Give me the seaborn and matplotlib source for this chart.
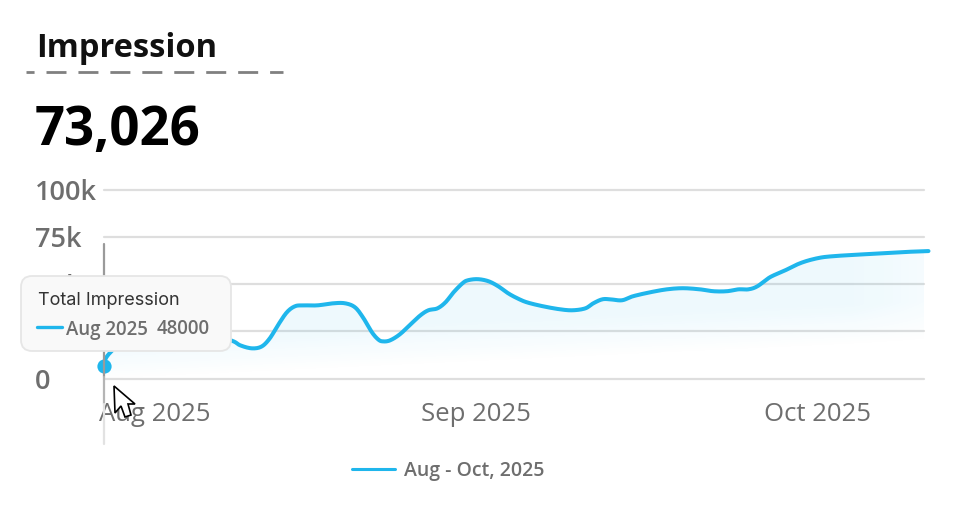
import numpy as np
import seaborn as sns
import matplotlib.pyplot as plt
from matplotlib.lines import Line2D
from matplotlib.patches import FancyBboxPatch, Polygon, PathPatch
from matplotlib.path import Path
from matplotlib.transforms import IdentityTransform, Affine2D

W, H = 974, 506

# values
days = [0, 0.7, 5.1, 10.7, 14.2, 15.2, 16.5, 17.6, 18.5, 19.4, 20.4, 21.3, 22.2, 23.8, 25.6, 26.9,
        28.0, 28.9, 29.9, 30.6, 31.1, 31.9, 33.0, 34.2, 35.3, 36.2, 37.2, 38.1, 39.0, 40.0, 40.6,
        41.7, 42.9, 44.0, 45.1, 46.1, 47.2, 49.0, 50.9, 52.3, 53.7, 54.6, 55.6, 56.5, 57.8, 59.0,
        60.9, 62.8, 64.6, 66.5, 68.0, 69.5, 70.8, 71.9, 72.9, 74.3, 75.8, 77.7, 79.6, 81.4, 85.2,
        88.8, 92.0]
impressions = [6400, 13800, 30900, 25500, 20200, 17600, 16000, 17000, 21300, 28200, 35100, 38300,
               38800, 38800, 39900, 39900, 37800, 32400, 24500, 20700, 19700, 20200, 23400, 28700,
               33500, 36200, 37200, 40400, 45700, 50500, 52100, 52700, 51600, 48900, 45200, 42600,
               40400, 38300, 36700, 36200, 37200, 39900, 42000, 42000, 41500, 43600, 45700, 47300,
               47900, 47300, 46300, 46300, 47300, 47300, 48900, 53700, 56900, 61200, 63800, 64900,
               66000, 67000, 67600]
y_ticks = [0, 25000, 50000, 75000, 100000]
y_labels = ["0", "", "50k", "75k", "100k"]
x_ticks = [5.7, 41.5, 79.6]
x_labels = ["Aug 2025", "Sep 2025", "Oct 2025"]

BLUE = "#1fb6ec"
GREY = "#6e6e6e"

sns.set_theme(style="white")
plt.rcParams['font.family'] = ['Open Sans', 'DejaVu Sans']
plt.rcParams['lines.scale_dashes'] = False


def fx(px):
    return px / W


def fy(py):
    return 1 - py / H


def smooth(xs, ys, n=12):
    # catmull-rom through the read values, the original line is a smoothed one
    p = np.column_stack([xs, ys]).astype(float)
    p = np.vstack([p[0], p, p[-1]])
    out = []
    t = np.linspace(0, 1, n, endpoint=False)[:, None]
    for i in range(1, len(p) - 2):
        a, b, c, d = p[i - 1], p[i], p[i + 1], p[i + 2]
        out.append(0.5 * (2 * b + (c - a) * t + (2 * a - 5 * b + 4 * c - d) * t ** 2
                          + (3 * b - a - 3 * c + d) * t ** 3))
    out.append(p[-1][None, :])
    out = np.vstack(out)
    return out[:, 0], out[:, 1]


fig = plt.figure(figsize=(W / 100, H / 100), dpi=100)
ax = fig.add_axes([fx(104), fy(379.5), 820 / W, 188.5 / H])
sx, sy = smooth(days, impressions)
sns.lineplot(x=sx, y=sy, ax=ax, color=BLUE, linewidth=2.9, sort=False,
             errorbar=None, label="Aug - Oct, 2025", clip_on=False, zorder=4)
ax.lines[0].set_solid_capstyle("round")
sns.scatterplot(x=days[:1], y=impressions[:1], ax=ax, color=BLUE, s=105, linewidth=0,
                clip_on=False, zorder=5, legend=False)

ax.set_yticks(y_ticks, y_labels)
ax.set_xticks(x_ticks, x_labels)
ax.tick_params(axis="y", length=0, pad=49.5, labelsize=19.5, labelcolor=GREY)
ax.tick_params(axis="x", length=0, pad=16, labelsize=18.5, labelcolor=GREY)
for t in ax.get_yticklabels():
    t.set_ha("left")
    t.set_fontweight(600)
    t.set_transform(t.get_transform() + Affine2D().translate(0, 1.2))
sns.despine(ax=ax, left=True, bottom=True, top=True, right=True)
ax.patch.set_alpha(0)
ax.grid(axis="y", color="#dedede", linewidth=1.6, zorder=0, clip_on=False)
ax.grid(axis="x", visible=False)
for g in ax.get_ygridlines():
    g.set_clip_on(False)
ax.set_axisbelow(True)

# soft fill under the curve, fading to bottom left and right
gx, gy = np.meshgrid(np.linspace(0, 1, 300), np.linspace(1, 0, 200))
alpha = np.clip((gy * 1.5 - gx * 0.45 + 0.02) * 0.16, 0, 0.075)
alpha = alpha * np.clip((1.02 - gx) / 0.14, 0, 1) ** 0.6
rgba = np.zeros(gx.shape + (4,))
rgba[..., :3] = (0.12, 0.71, 0.93)
rgba[..., 3] = alpha
img = ax.imshow(rgba, extent=[0, 95, 0, 70000], aspect="auto", zorder=1, interpolation="bilinear")
ax.set_xlim(0, 91.5)
ax.set_ylim(0, 100000)
verts = [(days[0], 0)] + list(zip(sx, sy)) + [(days[-1], 0), (days[0], 0)]
clip = PathPatch(Path(verts), transform=ax.transData, facecolor="none", edgecolor="none")
ax.add_patch(clip)
img.set_clip_path(clip)

leg = ax.legend(loc="center", bbox_to_anchor=(448.5 / W, fy(471.5)), bbox_transform=fig.transFigure,
                frameon=False, fontsize=14, handlelength=2.2, handletextpad=0.46, labelcolor=GREY,
                borderpad=0, borderaxespad=0)
for t in leg.get_texts():
    t.set_fontweight(600)
leg.get_lines()[0].set_linewidth(2.2)

# heading
fig.text(fx(36), fy(57), "Impression", fontsize=23.5, fontweight=700, color="#111111",
         va="baseline", ha="left")
fig.text(fx(35), fy(145), "73,026", fontsize=38, fontweight=700, color="#000000",
         va="baseline", ha="left")
fig.add_artist(Line2D([fx(26), fx(283)], [fy(73), fy(73)], color="#808080", lw=2.0,
                      linestyle=(8.6, (14.4, 8.6)), dash_capstyle="butt"))

# crosshair
fig.add_artist(Line2D([fx(104), fx(104)], [fy(245), fy(378)], color="#9a9a9a", lw=1.6, zorder=3))
fig.add_artist(Line2D([fx(104), fx(104)], [fy(378), fy(405)], color="#b5b5b5", lw=1.6, zorder=3))
fig.add_artist(Line2D([fx(104), fx(104)], [fy(405), fy(445)], color="#e2e2e2", lw=1.6, zorder=3))

# tooltip
box = FancyBboxPatch((21, H - 352), 210, 75, boxstyle="round,pad=0,rounding_size=11",
                     transform=IdentityTransform(), facecolor="#f9f9f9", edgecolor="#e6e6e6",
                     lw=1.3, zorder=10)
fig.add_artist(box)
fig.text(fx(38), fy(300.5), "Total Impression", fontsize=13, color="#333333", va="center", ha="left",
         zorder=11, family=['Inter', 'DejaVu Sans'])
fig.add_artist(Line2D([fx(37), fx(62)], [fy(328), fy(328)], color=BLUE, lw=2.4, zorder=11,
                      solid_capstyle="round"))
fig.text(fx(66), fy(329.5), "Aug 2025", fontsize=13.4, fontweight=600, color=GREY, va="center", ha="left", zorder=11)
fig.text(fx(157), fy(329.5), "48000", fontsize=13.4, fontweight=600, color=GREY, va="center", ha="left", zorder=11)

# mouse pointer
cursor = [(114, 387), (135, 405), (128, 405), (131, 416), (125, 418), (121, 407), (115, 414)]
fig.add_artist(Polygon([(fx(a), fy(b)) for a, b in cursor], closed=True, facecolor="white",
                       edgecolor="black", lw=1.2, zorder=12))

fig.savefig("out.png", dpi=100)
